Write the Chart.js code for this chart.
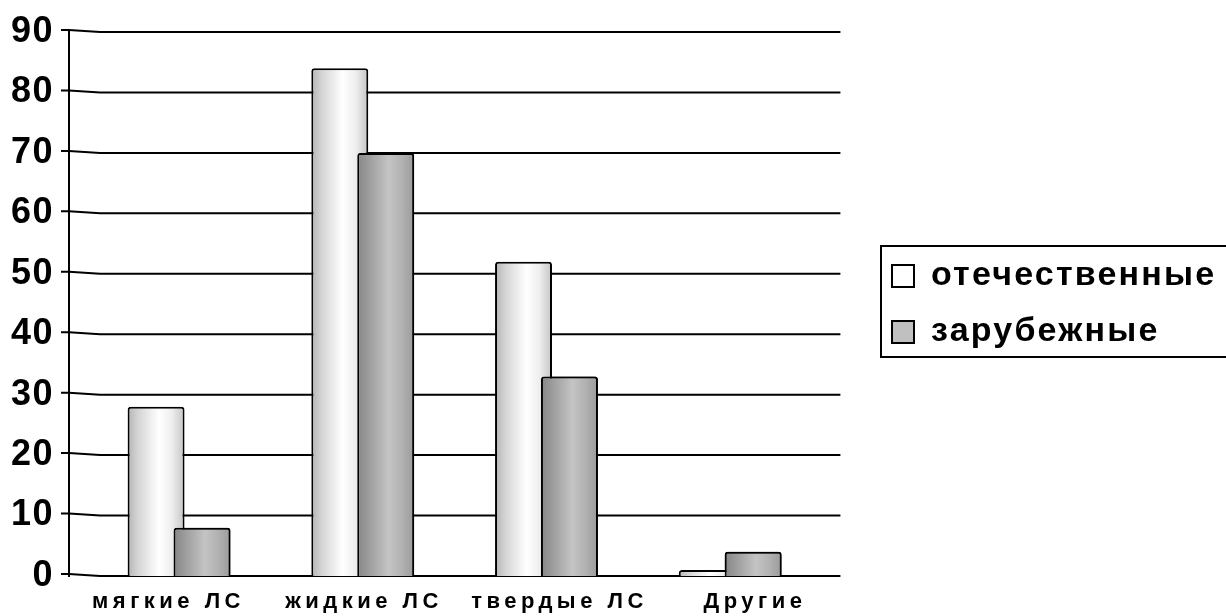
<!DOCTYPE html>
<html>
<head>
<meta charset="utf-8">
<script src="https://cdn.jsdelivr.net/npm/chart.js@4.4.1/dist/chart.umd.min.js"></script>
<style>
  html, body { margin: 0; padding: 0; background: #ffffff; }
  #wrap { position: relative; width: 1226px; height: 616px; }
</style>
</head>
<body>
<div id="wrap"><canvas id="c" width="1226" height="616"></canvas></div>
<script>
// ---- data ----
const categories = ['мягкие ЛС', 'жидкие ЛС', 'твердые ЛС', 'Другие'];
const seriesNames = ['отечественные', 'зарубежные'];
const domestic = [28, 84, 52, 1];
const foreign = [8, 70, 33, 4];
const yMin = 0, yMax = 90, yStep = 10;

// ---- styling ----
const FONT = '"Liberation Sans", Arial, sans-serif';
const LEGEND_FONT_SIZE = 34;
const LEGEND_PAD = 22;
const LEGEND_BOX = 22;
const LEGEND_SPACING = '2.2px';
const CAT_PCT = 0.5, BAR_PCT = 1.24;
const whiteStops = [[0, '#b4b4b4'], [0.18, '#d4d4d4'], [0.55, '#ffffff'], [0.78, '#eeeeee'], [1, '#c4c4c4']];
const greyStops = [[0, '#868686'], [0.2, '#9c9c9c'], [0.55, '#c4c4c4'], [0.8, '#b0b0b0'], [1, '#9a9a9a']];
const legendFills = ['#ffffff', '#c0c0c0'];

function cylinder(stops, fallback) {
  return (ctx) => {
    if (ctx.type !== 'data') return fallback;
    const chart = ctx.chart;
    const xs = chart.scales.x;
    if (!xs) return fallback;
    const unit = xs.getPixelForValue(1) - xs.getPixelForValue(0);
    const chunk = unit * CAT_PCT / 2;
    const w = chunk * BAR_PCT;
    const cx = xs.getPixelForValue(ctx.dataIndex) + (ctx.datasetIndex - 0.5) * chunk;
    if (!isFinite(cx) || !isFinite(w) || w <= 0) return fallback;
    const g = chart.ctx.createLinearGradient(cx - w / 2, 0, cx + w / 2, 0);
    stops.forEach(s => g.addColorStop(s[0], s[1]));
    return g;
  };
}

// legend width needed so that the plot area ends where the reference's does
const mctx = document.createElement('canvas').getContext('2d');
mctx.font = 'bold ' + LEGEND_FONT_SIZE + 'px ' + FONT;
mctx.letterSpacing = LEGEND_SPACING;
const maxTextW = Math.max(...seriesNames.map(s => mctx.measureText(s).width));
const legendNatural = LEGEND_PAD + LEGEND_BOX + LEGEND_FONT_SIZE / 2 + maxTextW + 10;
const legendTarget = 356;
const padRight = Math.max(0, legendTarget - legendNatural);

function withSpacing(obj, method, spacing) {
  if (!obj || !obj[method] || obj[method].__sp) return;
  const orig = obj[method];
  const f = function (...a) {
    const c = this.ctx;
    c.save();
    c.letterSpacing = spacing;
    const r = orig.apply(this, a);
    c.restore();
    return r;
  };
  f.__sp = true;
  obj[method] = f;
}

const categoryTicks = (s) => { s.ticks = categories.map((_, i) => ({ value: i })); };

const gridPlugin = {
  id: 'grid3d',
  beforeUpdate(chart) {
    withSpacing(chart.legend, 'fit', LEGEND_SPACING);
    withSpacing(chart.legend, 'draw', LEGEND_SPACING);
  },
  beforeDraw(chart) {
    withSpacing(chart.legend, 'draw', LEGEND_SPACING);
    withSpacing(chart.scales.xl, 'drawLabels', '4.5px');
    withSpacing(chart.scales.y, 'drawLabels', '1.5px');
  },
  beforeDatasetsDraw(chart) {
    const { ctx, chartArea } = chart;
    const ys = chart.scales.y;
    const xs = chart.scales.x;
    const right = xs.getPixelForValue(categories.length - 0.4);
    ctx.save();
    ctx.strokeStyle = '#000';
    ctx.lineWidth = 2;
    for (let v = yMin; v <= yMax; v += yStep) {
      const y = ys.getPixelForValue(v);
      ctx.beginPath();
      ctx.moveTo(chartArea.left - 8, y - 2);
      ctx.lineTo(chartArea.left, y - 2);
      ctx.lineTo(chartArea.left + 31, y);
      ctx.lineTo(right, y);
      ctx.stroke();
    }
    ctx.restore();
  },
  afterDatasetsDraw(chart) {
    // second series sits in front of the first one, as in the reference
    const meta = chart.getDatasetMeta(1);
    if (meta && meta.controller) meta.controller.draw();
  },
  afterDraw(chart) {
    const lg = chart.legend;
    if (!lg || !lg.legendHitBoxes || !lg.legendHitBoxes.length) return;
    const hb = lg.legendHitBoxes;
    const { ctx } = chart;
    const top = hb[0].top - 13;
    const bottom = hb[hb.length - 1].top + hb[hb.length - 1].height + 8;
    const left = lg.left + 11;
    ctx.save();
    ctx.strokeStyle = '#000';
    ctx.lineWidth = 2;
    ctx.strokeRect(left, top, chart.width + 20 - left, bottom - top);
    ctx.restore();
  }
};

new Chart(document.getElementById('c'), {
  type: 'bar',
  data: {
    datasets: [
      {
        label: seriesNames[0],
        data: domestic.map((v, i) => ({ x: i, y: v })),
        backgroundColor: cylinder(whiteStops, '#eeeeee'),
        borderColor: '#000',
        borderWidth: 2,
        borderRadius: { topLeft: 3, topRight: 3 },
        categoryPercentage: CAT_PCT,
        barPercentage: BAR_PCT
      },
      {
        label: seriesNames[1],
        data: foreign.map((v, i) => ({ x: i, y: v })),
        backgroundColor: cylinder(greyStops, '#aaaaaa'),
        borderColor: '#000',
        borderWidth: 2,
        borderRadius: { topLeft: 3, topRight: 3 },
        categoryPercentage: CAT_PCT,
        barPercentage: BAR_PCT
      }
    ]
  },
  options: {
    responsive: false,
    animation: false,
    devicePixelRatio: 1,
    layout: { padding: { left: 0, right: padRight, top: 32, bottom: 0 } },
    plugins: {
      tooltip: { enabled: false },
      legend: {
        display: true,
        position: 'right',
        align: 'center',
        fullSize: false,
        maxWidth: legendTarget,
        labels: {
          boxWidth: LEGEND_BOX,
          boxHeight: LEGEND_BOX,
          padding: LEGEND_PAD,
          color: '#000',
          font: { family: FONT, size: LEGEND_FONT_SIZE, weight: 'bold' },
          generateLabels: (chart) => chart.data.datasets.map((ds, i) => ({
            text: ds.label,
            fillStyle: legendFills[i],
            strokeStyle: '#000',
            lineWidth: 2,
            hidden: false,
            datasetIndex: i
          }))
        }
      }
    },
    scales: {
      x: {
        type: 'linear',
        display: false,
        bounds: 'data',
        offset: false,
        min: -0.599,
        max: 3.761,
        afterBuildTicks: categoryTicks
      },
      xl: {
        type: 'linear',
        position: 'bottom',
        bounds: 'data',
        offset: false,
        min: -0.509,
        max: 3.588,
        afterBuildTicks: categoryTicks,
        grid: { display: false, drawTicks: false },
        border: { display: false },
        ticks: {
          color: '#000',
          padding: 13,
          maxRotation: 0,
          autoSkip: false,
          font: { family: FONT, size: 22, weight: 'bold' },
          callback: (v, i) => categories[i] !== undefined ? categories[i] : ''
        },
        afterFit: (s) => { s.height = 40; }
      },
      y: {
        type: 'linear',
        position: 'left',
        min: yMin,
        max: yMax,
        grid: { display: false, drawTicks: false },
        border: { display: true, color: '#000', width: 2 },
        ticks: {
          stepSize: yStep,
          color: '#000',
          padding: 15,
          font: { family: FONT, size: 36, weight: 'bold', lineHeight: 0.9 }
        },
        afterFit: (s) => { s.width = 69; }
      }
    }
  },
  plugins: [gridPlugin]
});
</script>
</body>
</html>
